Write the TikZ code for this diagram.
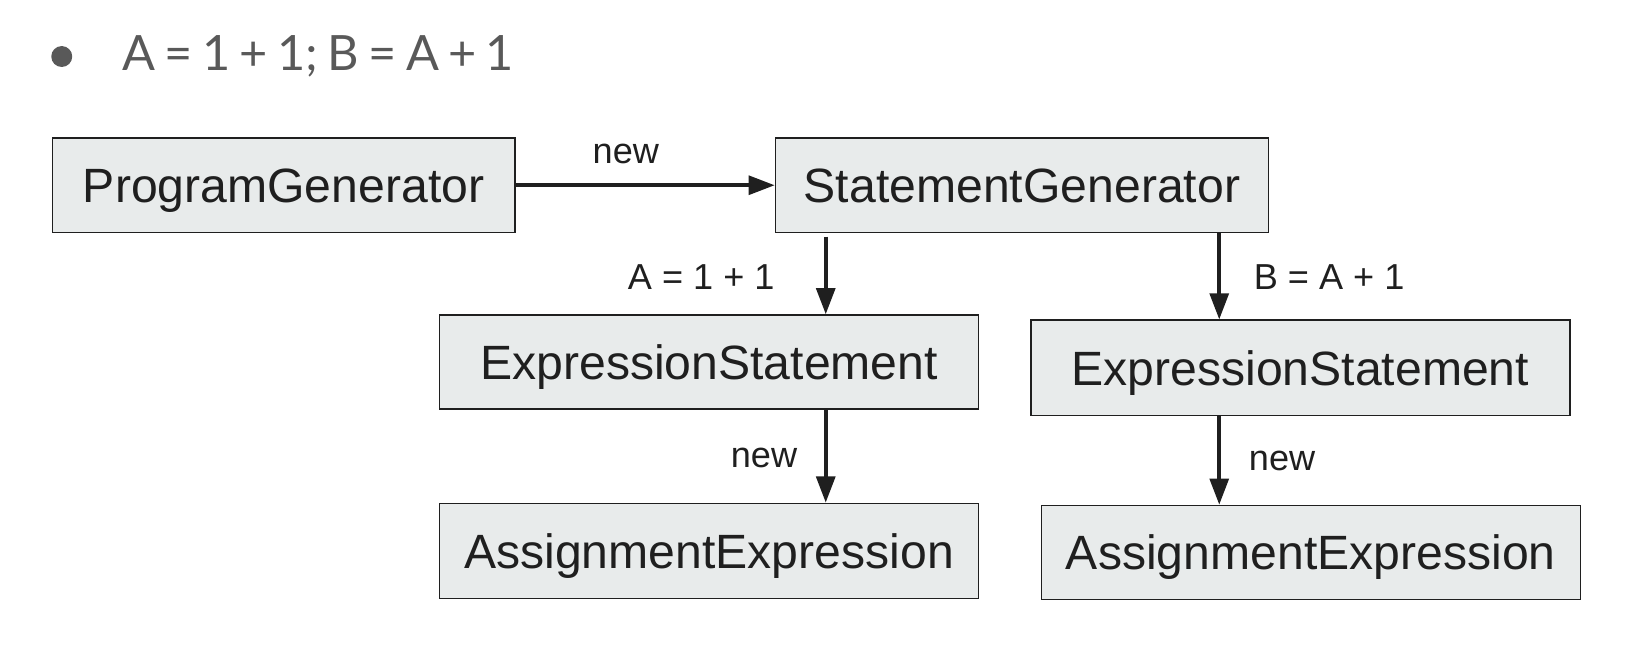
\documentclass[tikz,border=0pt]{standalone}
\usepackage{fontspec}
\setmainfont{Liberation Sans}
\newfontfamily\latofont{Lato}
\usetikzlibrary{arrows.meta}
\definecolor{boxfill}{HTML}{E8EBEB}
\definecolor{ink}{HTML}{1F1F1F}
\definecolor{bulletgray}{HTML}{595959}
\tikzset{
  classbox/.style={draw=ink, line width=1.5pt, fill=boxfill, inner sep=0pt,
    font=\fontsize{46}{55}\selectfont, text=ink, text height=33pt, text depth=0pt},
  flow/.style={draw=ink, line width=3.5pt, -{Triangle[length=25pt,width=18pt]}},
  edgelabel/.style={font=\fontsize{34.5}{41}\selectfont, text=ink, inner sep=0pt}
}
\begin{document}
\begin{tikzpicture}[x=1pt,y=-1pt]
\useasboundingbox (0,0) rectangle (1568,623);
% bullet line
\fill[bulletgray] (59,54) circle (10);
\node[anchor=base west, inner sep=0pt, text=bulletgray, font=\latofont\fontsize{46.5}{56}\selectfont] (bullettext) at (117,67) {\spaceskip=8.9pt plus 1pt\relax A = 1 + 1; B = A + 1};
% boxes
\node[classbox, minimum width=442pt, minimum height=90pt] (PG) at (271,177) {ProgramGenerator};
\node[classbox, minimum width=471pt, minimum height=90pt] (SG) at (976.5,177) {StatementGenerator};
\node[classbox, minimum width=515pt, minimum height=90pt] (ES1) at (677.5,346) {ExpressionStatement};
\node[classbox, minimum width=515pt, minimum height=91pt] (AE1) at (677.5,526.5) {AssignmentExpression};
\node[classbox, minimum width=515pt, minimum height=91pt] (ES2) at (1242.5,351.5) {ExpressionStatement};
\node[classbox, minimum width=515pt, minimum height=90pt] (AE2) at (1252.5,528) {AssignmentExpression};
% guide coordinates for vertical connectors
\coordinate (colL) at (789,0);
\coordinate (colR) at (1165,0);
\coordinate (sgL) at (789,226);
% connectors
\draw[flow] (PG.east) -- (SG.west);
\draw[flow] (sgL) -- (ES1.north -| colL);
\draw[flow] (SG.south -| colR) -- (ES2.north -| colR);
\draw[flow] (ES1.south -| colL) -- (AE1.north -| colL);
\draw[flow] (ES2.south -| colR) -- (AE2.north -| colR);
% labels
\node[edgelabel] (l1) at (598,147) {new};
\node[edgelabel] (l2) at (670,265) {A = 1 + 1};
\node[edgelabel] (l3) at (1270,265) {B = A + 1};
\node[edgelabel] (l4) at (730,438) {new};
\node[edgelabel] (l5) at (1225,440) {new};
\end{tikzpicture}
\end{document}
